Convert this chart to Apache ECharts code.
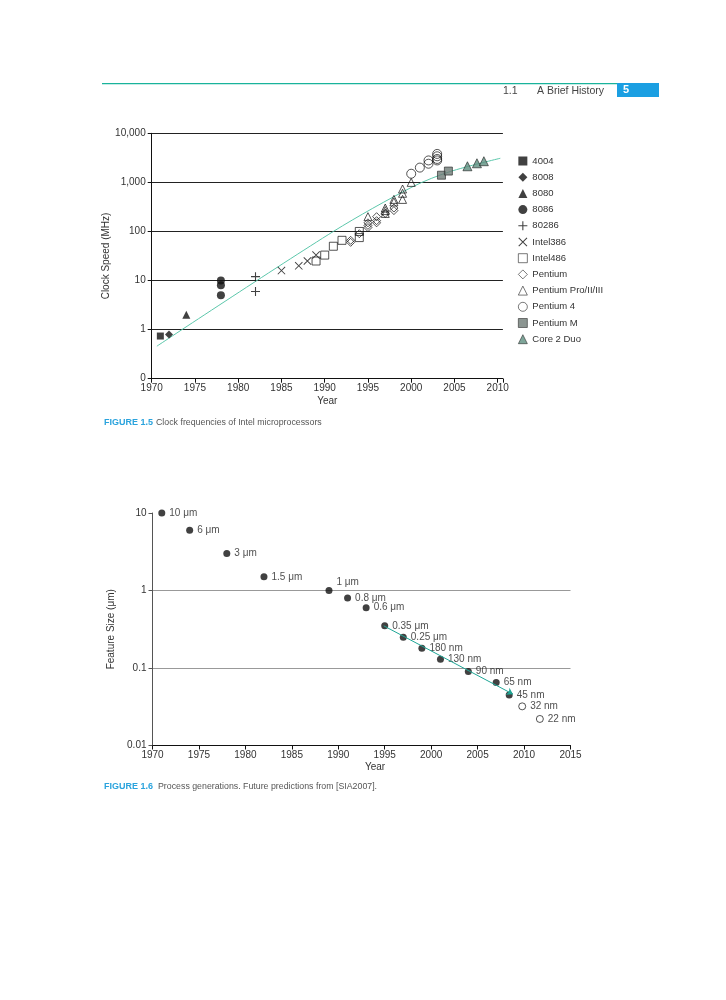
<!DOCTYPE html>
<html>
<head>
<meta charset="utf-8">
<script src="https://cdn.jsdelivr.net/npm/echarts@6/dist/echarts.min.js"></script>
<style>
html, body { margin: 0; padding: 0; background: #fff; }
#page { width: 726px; height: 1000px; }
</style>
</head>
<body>
<div id="page"></div>
<script>
// Figure 1.5 - clock speed (MHz) by processor family, [year, MHz]
var families = ['4004', '8008', '8080', '8086', '80286', 'Intel386', 'Intel486',
    'Pentium', 'Pentium Pro/II/III', 'Pentium 4', 'Pentium M', 'Core 2 Duo'];
var clk4004 = [[1971, 0.74]];
var clk8008 = [[1972, 0.8]];
var clk8080 = [[1974, 2]];
var clk8086 = [[1978, 5], [1978, 8], [1978, 10]];
var clk80286 = [[1982, 6], [1982, 12]];
var clk386 = [[1985, 16], [1987, 20], [1988, 25], [1989, 33]];
var clk486 = [[1989, 25], [1990, 33], [1991, 50], [1992, 66], [1994, 75], [1994, 100]];
var clkPentium = [[1993, 60], [1993, 66], [1994, 90], [1995, 120], [1995, 133], [1995, 150],
    [1996, 150], [1996, 166], [1996, 200], [1997, 233], [1998, 266], [1998, 300]];
var clkPentiumPro = [[1995, 200], [1997, 233], [1997, 266], [1997, 300], [1998, 400], [1998, 450],
    [1999, 450], [1999, 600], [1999, 733], [2000, 1000]];
var clkPentium4 = [[2000, 1500], [2001, 2000], [2002, 2400], [2002, 2800],
    [2003, 2800], [2003, 3000], [2003, 3400], [2003, 3800]];
var clkPentiumM = [[2003.5, 1400], [2004.3, 1700]];
var clkCore2 = [[2006.5, 2130], [2007.6, 2450], [2008.4, 2700]];
var clockTrend = [[1970.6, 0.46], [1991, 100], [2000.2, 820], [2004.5, 1660], [2010.3, 3100]];

// Figure 1.6 - process generations
var nodeNames = ['10 \u03bcm', '6 \u03bcm', '3 \u03bcm', '1.5 \u03bcm', '1 \u03bcm', '0.8 \u03bcm', '0.6 \u03bcm',
    '0.35 \u03bcm', '0.25 \u03bcm', '180 nm', '130 nm', '90 nm', '65 nm', '45 nm', '32 nm', '22 nm'];
var nodeYears = [1971, 1974, 1978, 1982, 1989, 1991, 1993, 1995, 1997, 1999, 2001, 2004, 2007, 2008.4, 2009.8, 2011.7];
var nodeSizes = [10, 6, 3, 1.5, 1, 0.8, 0.6, 0.35, 0.25, 0.18, 0.13, 0.09, 0.065, 0.045, 0.032, 0.022];
var firstPredicted = 14;
var featureTrend = [[1994.9, 0.35], [2008.8, 0.046]];

var PLUS = 'path://M4.4,0L5.6,0L5.6,10L4.4,10Z M0,4.4L10,4.4L10,5.6L0,5.6Z';
var CROSS = 'path://M0.8,0L10,9.2L9.2,10L0,0.8Z M9.2,0L10,0.8L0.8,10L0,9.2Z';
var HOLLOW = { color: 'rgba(255,255,255,0)', borderColor: '#111', borderWidth: 0.9 };
var SOLID = { color: '#111' };

var looks = {
    '4004': { data: clk4004, symbol: 'rect', size: 7, style: SOLID },
    '8008': { data: clk8008, symbol: 'diamond', size: 8, style: SOLID },
    '8080': { data: clk8080, symbol: 'triangle', size: 8, style: SOLID },
    '8086': { data: clk8086, symbol: 'circle', size: 8, style: SOLID },
    '80286': { data: clk80286, symbol: PLUS, size: 9, style: SOLID },
    'Intel386': { data: clk386, symbol: CROSS, size: 8, style: SOLID },
    'Intel486': { data: clk486, symbol: 'rect', size: 8, style: HOLLOW },
    'Pentium': { data: clkPentium, symbol: 'diamond', size: 8, style: HOLLOW },
    'Pentium Pro/II/III': { data: clkPentiumPro, symbol: 'triangle', size: 8, style: HOLLOW },
    'Pentium 4': { data: clkPentium4, symbol: 'circle', size: 9, style: HOLLOW },
    'Pentium M': { data: clkPentiumM, symbol: 'rect', size: 8, style: { color: '#6e7a76', borderColor: '#222', borderWidth: 0.8 } },
    'Core 2 Duo': { data: clkCore2, symbol: 'triangle', size: 9, style: { color: '#5e8f80', borderColor: '#222', borderWidth: 0.8 } }
};

var series = [{
    type: 'line',
    xAxisIndex: 0, yAxisIndex: 0,
    data: clockTrend,
    smooth: 0.3,
    showSymbol: false,
    silent: true,
    z: 1,
    lineStyle: { color: '#5cc7ab', width: 1 }
}];
families.forEach(function (f) {
    var l = looks[f];
    series.push({
        name: f,
        type: 'scatter',
        xAxisIndex: 0, yAxisIndex: 0,
        data: l.data,
        symbol: l.symbol,
        symbolSize: l.size,
        itemStyle: l.style,
        z: 3
    });
});

var nodeData = nodeNames.map(function (n, i) {
    var item = { name: n, value: [nodeYears[i], nodeSizes[i]] };
    if (i >= firstPredicted) item.itemStyle = HOLLOW;
    if (n === '1 \u03bcm') item.label = { offset: [0, -8] };
    return item;
});
series.push({
    type: 'scatter',
    xAxisIndex: 1, yAxisIndex: 1,
    data: nodeData,
    symbolSize: 7,
    itemStyle: SOLID,
    label: { show: true, position: 'right', distance: 4, formatter: '{b}', fontSize: 10, color: '#222' },
    markLine: {
        silent: true,
        symbol: ['none', 'arrow'],
        symbolSize: 6,
        label: { show: false },
        lineStyle: { color: '#1fa696', width: 1, type: 'solid' },
        data: [[{ coord: featureTrend[0] }, { coord: featureTrend[1] }]]
    }
});

function powLabel(v) {
    return Math.pow(10, Math.round(Math.log10(v)));
}

var chart = echarts.init(document.getElementById('page'));
chart.setOption({
    animation: false,
    textStyle: { fontFamily: 'Liberation Sans, Arial, sans-serif' },
    grid: [
        { left: 151.7, top: 133.3, width: 351.2, height: 245.4 },
        { left: 152.5, top: 513, width: 418, height: 232.5 }
    ],
    legend: {
        orient: 'vertical',
        left: 513,
        top: 150,
        itemWidth: 9,
        itemHeight: 9,
        itemGap: 4.2,
        textStyle: { fontSize: 9.5, color: '#333', lineHeight: 12 },
        data: families.map(function (f) {
            return { name: f, icon: looks[f].symbol, itemStyle: { borderWidth: 0.7 } };
        })
    },
    xAxis: [{
        gridIndex: 0,
        type: 'value',
        min: 1970, max: 2010.6, interval: 5,
        name: 'Year', nameLocation: 'middle', nameGap: 18,
        nameTextStyle: { fontSize: 10, color: '#333' },
        axisLine: { lineStyle: { color: '#111' } },
        axisTick: { length: 4, lineStyle: { color: '#111' } },
        axisLabel: {
            fontSize: 10, color: '#333', margin: 5,
            formatter: function (v) { return v % 5 === 0 ? String(v) : ''; }
        },
        splitLine: { show: false }
    }, {
        gridIndex: 1,
        type: 'value',
        min: 1970, max: 2015, interval: 5,
        name: 'Year', nameLocation: 'middle', nameGap: 17,
        nameTextStyle: { fontSize: 10, color: '#333', padding: [0, 0, 0, 27] },
        axisLine: { lineStyle: { color: '#111' } },
        axisTick: { length: 4, lineStyle: { color: '#111' } },
        axisLabel: {
            fontSize: 10, color: '#333', margin: 5,
            formatter: function (v) { return String(v); }
        },
        splitLine: { show: false }
    }],
    yAxis: [{
        gridIndex: 0,
        type: 'log', logBase: 10,
        min: 0.1, max: 10000,
        name: 'Clock Speed (MHz)', nameLocation: 'middle', nameGap: 29,
        nameTextStyle: { fontSize: 10, color: '#333' },
        axisLine: { show: true, lineStyle: { color: '#111' } },
        axisTick: { show: true, length: 4, lineStyle: { color: '#111' } },
        minorTick: { show: false },
        axisLabel: {
            fontSize: 10, color: '#333', margin: 6,
            formatter: function (v) {
                var p = powLabel(v);
                return p < 1 ? '0' : p.toLocaleString('en-US');
            }
        },
        splitLine: { show: true, showMinLine: false, lineStyle: { color: '#222', width: 1 } }
    }, {
        gridIndex: 1,
        type: 'log', logBase: 10,
        min: 0.01, max: 10,
        name: 'Feature Size (\u03bcm)', nameLocation: 'middle', nameGap: 26,
        nameTextStyle: { fontSize: 10, color: '#333' },
        axisLine: { show: true, lineStyle: { color: '#555' } },
        axisTick: { show: true, length: 4, lineStyle: { color: '#555' } },
        minorTick: { show: false },
        axisLabel: {
            fontSize: 10, color: '#333', margin: 6,
            formatter: function (v) { return String(powLabel(v)); }
        },
        splitLine: { show: true, showMinLine: false, showMaxLine: false, lineStyle: { color: '#999', width: 1 } }
    }],
    graphic: [
        { type: 'rect', shape: { x: 102, y: 83, width: 515, height: 1.2 }, style: { fill: '#19b39b' } },
        { type: 'text', x: 503, y: 91, style: { text: '1.1', font: '10.5px Liberation Sans', fill: '#444', verticalAlign: 'middle' } },
        { type: 'text', x: 537, y: 91, style: { text: 'A Brief History', font: '10.5px Liberation Sans', fill: '#444', verticalAlign: 'middle' } },
        { type: 'rect', shape: { x: 617, y: 83, width: 42, height: 14 }, style: { fill: '#1b9fe2' } },
        { type: 'text', x: 623, y: 90, style: { text: '5', font: 'bold 11px Liberation Sans', fill: '#fff', verticalAlign: 'middle' } },
        { type: 'text', x: 104, y: 422.5, style: { text: 'FIGURE 1.5', font: 'bold 9px Liberation Sans Narrow, Liberation Sans', fill: '#2aa3dd', verticalAlign: 'middle' } },
        { type: 'text', x: 156, y: 422.5, style: { text: 'Clock frequencies of Intel microprocessors', font: '8.8px Liberation Sans', fill: '#555', verticalAlign: 'middle' } },
        { type: 'text', x: 104, y: 786.5, style: { text: 'FIGURE 1.6', font: 'bold 9px Liberation Sans Narrow, Liberation Sans', fill: '#2aa3dd', verticalAlign: 'middle' } },
        { type: 'text', x: 158, y: 786.5, style: { text: 'Process generations. Future predictions from [SIA2007].', font: '8.8px Liberation Sans', fill: '#555', verticalAlign: 'middle' } }
    ],
    series: series
});
</script>
</body>
</html>
